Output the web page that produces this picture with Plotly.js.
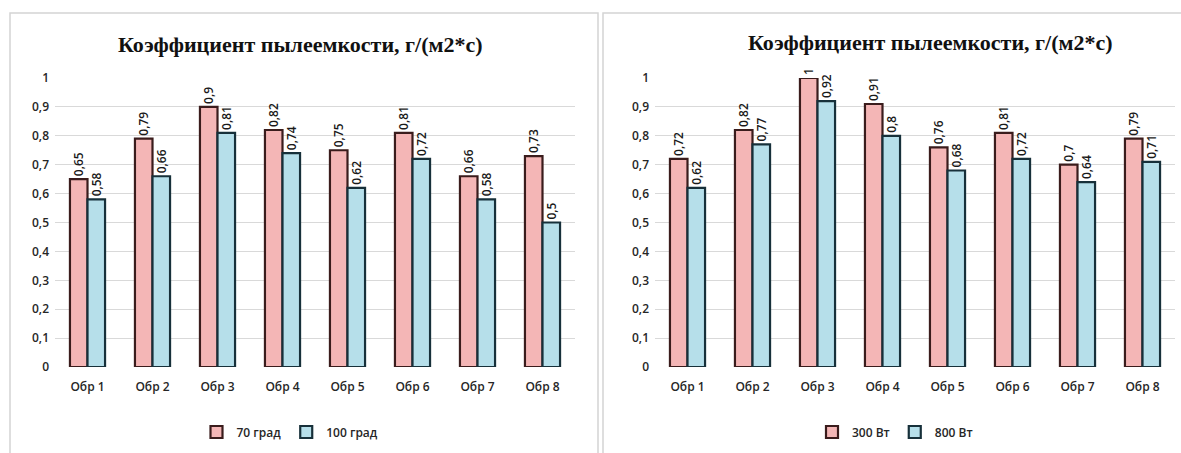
<!DOCTYPE html>
<html><head><meta charset="utf-8">
<script src="https://cdn.plot.ly/plotly-3.0.1.min.js"></script>
<style>html,body{margin:0;padding:0;background:#fff}#c{width:1181px;height:453px}</style>
</head><body><div id="c"></div>
<script>
const categories = ['Обр 1','Обр 2','Обр 3','Обр 4','Обр 5','Обр 6','Обр 7','Обр 8'];
const titleText = 'Коэффициент пылеемкости, г/(м2*с)';
const leftNames = ['70 град','100 град'];
const left70 = [0.65,0.79,0.9,0.82,0.75,0.81,0.66,0.73];
const left100 = [0.58,0.66,0.81,0.74,0.62,0.72,0.58,0.5];
const rightNames = ['300 Вт','800 Вт'];
const right300 = [0.72,0.82,1,0.91,0.76,0.81,0.7,0.79];
const right800 = [0.62,0.77,0.92,0.8,0.68,0.72,0.64,0.71];
const yTicks = [0,0.1,0.2,0.3,0.4,0.5,0.6,0.7,0.8,0.9,1];

const W=1181,H=453;
const pink='#f4b6b6', blue='#b6dfea', pinkLine='#3a1c1c', blueLine='#17303a';
const fam='Open Sans, Liberation Sans, sans-serif';
const fmt = v => String(v).replace('.', ',');
function bar(x,y,name,color,line,xa,ya,leg){
  return {type:'bar',x:x,y:y,name:name,xaxis:xa,yaxis:ya,legend:leg,
    marker:{color:color,line:{color:line,width:2.2}},
    text:y.map(fmt),textposition:'outside',textangle:-90,cliponaxis:false,constraintext:'none',
    textfont:{family:fam,size:12,color:'#1a1a1a',weight:600},
    hoverinfo:'x+y'};
}
const data=[
  bar(categories,left70,leftNames[0],pink,pinkLine,'x','y','legend'),
  bar(categories,left100,leftNames[1],blue,blueLine,'x','y','legend'),
  bar(categories,right300,rightNames[0],pink,pinkLine,'x2','y2','legend2'),
  bar(categories,right800,rightNames[1],blue,blueLine,'x2','y2','legend2')
];
const yd=[(H-367)/H,(H-78)/H];
const tickFont={family:fam,size:12,color:'#262626',weight:600};
const yax=(anchor)=>({domain:yd,range:[0,1],tickvals:yTicks,ticktext:yTicks.map(fmt),
  showgrid:true,gridcolor:'#d9d9d9',gridwidth:1,zeroline:false,showline:false,ticks:'',
  tickfont:tickFont,anchor:anchor,fixedrange:true,ticklabelstandoff:5});
const xax=(dom,anchor)=>({domain:dom,anchor:anchor,showline:false,ticks:'',tickfont:tickFont,
  ticklabelstandoff:11,fixedrange:true});
const legendCfg=(x)=>({orientation:'h',x:x,xanchor:'center',y:(H-432)/H,yanchor:'middle',
  font:{family:fam,size:12,color:'#262626',weight:600},bgcolor:'rgba(0,0,0,0)',
  itemwidth:30,tracegroupgap:0});
const tfont={family:'Liberation Serif',size:22,color:'#111',weight:'bold'};
const layout={
  width:W,height:H,margin:{l:0,r:0,t:0,b:0},paper_bgcolor:'#fff',plot_bgcolor:'rgba(0,0,0,0)',
  separators:', ',barmode:'group',bargap:0.46,bargroupgap:0.0,showlegend:true,
  xaxis:xax([55/W,575/W],'y'),yaxis:yax('x'),
  xaxis2:xax([655/W,1175/W],'y2'),yaxis2:yax('x2'),
  legend:legendCfg(290/W),legend2:legendCfg(895/W),
  annotations:[
    {xref:'paper',yref:'paper',x:300/W,y:(H-44)/H,text:'<b>'+titleText+'</b>',showarrow:false,font:tfont,xanchor:'center',yanchor:'middle'},
    {xref:'paper',yref:'paper',x:930/W,y:(H-42)/H,text:'<b>'+titleText+'</b>',showarrow:false,font:tfont,xanchor:'center',yanchor:'middle'}
  ],
  shapes:[
    {type:'rect',xref:'paper',yref:'paper',x0:10/W,x1:598/W,y0:-0.01,y1:(H-13)/H,line:{color:'#d4d4d4',width:1.5}},
    {type:'rect',xref:'paper',yref:'paper',x0:603/W,x1:1.01,y0:-0.01,y1:(H-13)/H,line:{color:'#d4d4d4',width:1.5}}
  ]
};
Plotly.newPlot('c',data,layout,{displayModeBar:false,staticPlot:true});
</script></body></html>
